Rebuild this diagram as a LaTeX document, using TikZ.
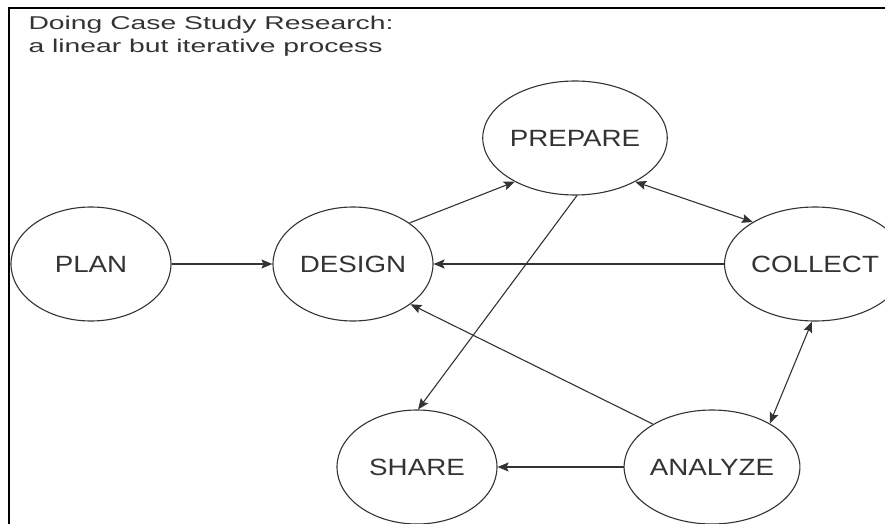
\documentclass[tikz,border=0pt]{standalone}
\usepackage{fontspec}
\setmainfont{Liberation Sans}
\usepackage{graphicx}
\usetikzlibrary{shapes.geometric,arrows.meta}
\newcommand{\widetext}[2]{\scalebox{#1}[1]{#2}}
\begin{document}
\begin{tikzpicture}[x=1pt,y=1pt,
    stage/.style={ellipse,draw=black!80,line width=1.1pt,minimum width=160pt,minimum height=114pt,inner sep=0pt,
      font=\fontsize{23.5}{26}\selectfont,text=black!80},
    link/.style={line width=1.1pt,draw=black!80,-{Stealth[length=11pt,width=9pt,inset=2pt]}},
    twoway/.style={link,{Stealth[length=11pt,width=9pt,inset=2pt]}-{Stealth[length=11pt,width=9pt,inset=2pt]}}]
                \useasboundingbox (0,0) rectangle (885,523);
                \clip (0,0) rectangle (885,523);
                \draw[line width=2pt] (9,-10) -- (9,515) -- (895,515);
                \node[anchor=base west,align=left,text=black!80,font=\fontsize{18.5}{23}\selectfont] (title) at (25,470)
                    {\widetext{1.53}{Doing Case Study Research:}\\\widetext{1.53}{a linear but iterative process}};
                % the six stages
                \node[stage] (plan) at (91,259) {\widetext{1.18}{PLAN}};
                \node[stage] (design) at (353,259) {\widetext{1.18}{DESIGN}};
                \node[stage] (prepare) at (575,385) {\widetext{1.18}{PREPARE}};
                \node[stage] (collect) at (815,259) {\widetext{1.18}{COLLECT}};
                \node[stage] (share) at (417,56) {\widetext{1.18}{SHARE}};
                \node[stage] (analyze) at (712,56) {\widetext{1.18}{ANALYZE}};
                % arrows between them
                \draw[link] (plan.east) -- (design.west);
                \draw[link] (design.36) -- (prepare.216);
                \draw[twoway] (prepare.324) -- (collect.146);
                \draw[link] (collect.west) -- (design.east);
                \draw[link] (prepare.272) -- (share.89);
                \draw[link] (analyze.144) -- (design.325);
                \draw[twoway] (collect.267) -- (analyze.37);
                \draw[link] (analyze.west) -- (share.east);
            \end{tikzpicture}
\end{document}
